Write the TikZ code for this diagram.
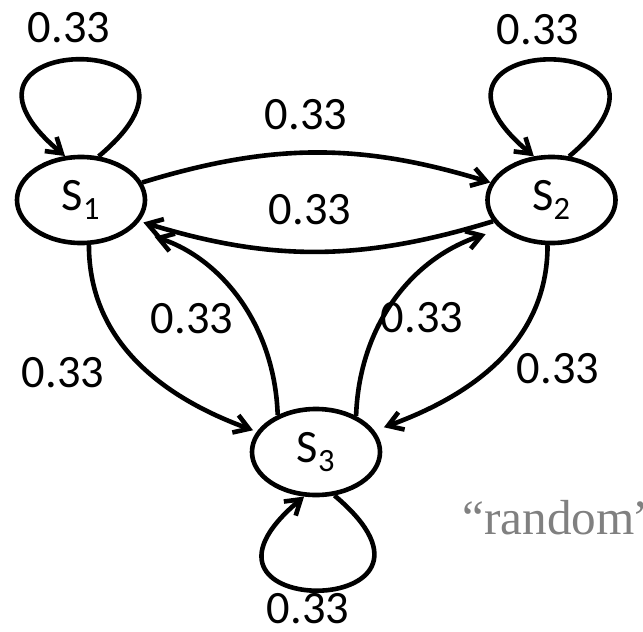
\documentclass[tikz,border=0pt]{standalone}
\usepackage{fontspec}
\setmainfont{Carlito}
\newfontfamily\quotefont{Liberation Serif}
\usepackage{xcolor}
\definecolor{quotegray}{RGB}{128,128,128}
\usetikzlibrary{arrows.meta,shapes.geometric}

\begin{document}
\begin{tikzpicture}[x=0.025cm,y=0.025cm,line width=0.115cm,
  >={Straight Barb[length=0.36cm,width=0.46cm]},
  state/.style={draw,ellipse,minimum width=3.2cm,minimum height=2.15cm,inner sep=0pt,font=\fontsize{33}{36}\selectfont},
  prob/.style={inner sep=0pt,font=\fontsize{33}{36}\selectfont}]
\clip (0,0) rectangle (643,-631);

\node[state] (s1) at (81,-200) {S\textsubscript{1}};
\node[state] (s2) at (551.5,-200) {S\textsubscript{2}};
\node[state] (s3) at (316,-452) {S\textsubscript{3}};

% self loops
\draw[->] (s1.68) to[out=40,in=140,distance=5cm] (s1.110);
\draw[->] (s2.68) to[out=40,in=140,distance=5cm] (s2.112);
\draw[->] (s3.-67) to[out=-40,in=-140,distance=4.88cm] (s3.-105);

% transitions
\draw[->] (s1.16) to[bend left=17] (s2.164);
\draw[->,shorten >=0.1cm] (s2.200) to[bend left=17] (s1.340);
\draw[->,shorten >=0.1cm] (s1.280) to[out=-90,in=160] (s3.161);
\draw[->,shorten >=0.25cm] (s2.265) to[out=-90,in=20] (s3.20);
\draw[->,shorten >=0.6cm] (s3.136) to[out=92,in=-18] (s1.330);
\draw[->,shorten >=0.4cm] (s3.42) to[out=88,in=198] (s2.210);

\node[prob] (p11) at (69,-28) {0.33};
\node[prob] (p22) at (538,-30) {0.33};
\node[prob] (p33) at (308,-609) {0.33};
\node[prob] (p12) at (306,-115) {0.33};
\node[prob] (p21) at (310,-210) {0.33};
\node[prob] (p13) at (63,-373) {0.33};
\node[prob] (p31) at (192,-319) {0.33};
\node[prob] (p32) at (422,-318) {0.33};
\node[prob] (p23) at (558,-369) {0.33};

\node[anchor=base west,inner sep=0pt,text=quotegray,font=\quotefont\fontsize{35}{38}\selectfont] (rnd) at (460,-534) {“random”};
\end{tikzpicture}
\end{document}
